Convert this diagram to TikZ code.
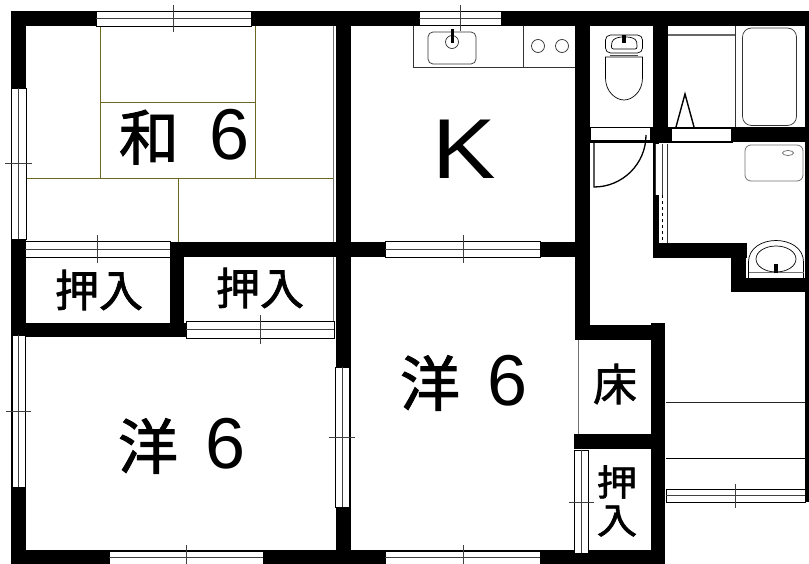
\documentclass[tikz,border=0pt]{standalone}
\usepackage{fontspec}
\newfontfamily\cjk[FakeBold=1.6]{Noto Sans CJK JP}
\newfontfamily\lat{Liberation Sans}
\newcommand{\bigroom}[3][28pt]{{\fontsize{60}{60}\selectfont\cjk #2}\hspace{#1}{\fontsize{72}{72}\selectfont\lat #3}}
\newcommand{\smallsz}{\fontsize{44}{38}\selectfont\cjk}
\newcommand{\narrowsz}{\fontsize{36}{38}\selectfont\cjk}
\tikzset{
 wall/.style={fill=black,draw=none},
 glass/.style={draw=black,fill=white,line width=.7pt},
 gline/.style={draw=black!75,line width=.7pt},
 tatami/.style={draw=olive!70!black,line width=.8pt},
 fix/.style={draw=black!80,line width=.7pt},
 thin gray/.style={draw=black!55,line width=.8pt},
 lbl/.style={inner sep=0pt,text=black}
}
\newcommand{\hwin}[5]{% x1,x2,y1,y2,crossx
 \draw[glass] (#1,#3) rectangle (#2,#4);
 \draw[gline] (#1,{(#3+#4)/2}) -- (#2,{(#3+#4)/2});
 \draw[gline] (#5,#3-6) -- (#5,#4+6);}
\newcommand{\vwin}[5]{% y1,y2,x1,x2,crossy
 \draw[glass] (#3,#1) rectangle (#4,#2);
 \draw[gline] ({(#3+#4)/2},#1) -- ({(#3+#4)/2},#2);
 \draw[gline] (#3-6,#5) -- (#4+6,#5);}
\begin{document}
\begin{tikzpicture}[x=1pt,y=-1pt]
\useasboundingbox (0,0) rectangle (809,564);
\fill[white] (0,0) rectangle (809,564);
% walls
\fill[wall] (11,11) rectangle (809,26);
\fill[wall] (11,11) rectangle (26,564);
\fill[wall] (11,550) rectangle (665,564);
\fill[wall] (336,26) rectangle (351,550);
\fill[wall] (170,242) rectangle (576,257);
\fill[wall] (170,242) rectangle (184,323);
\fill[wall] (11,323) rectangle (186,337);
\fill[wall] (575,26) rectangle (590,340);
\fill[wall] (575,325) rectangle (665,340);
\fill[wall] (651,323) rectangle (665,560);
\fill[wall] (574,434) rectangle (651,449);
\fill[wall] (653,26) rectangle (668,143);
\fill[wall] (590,127) rectangle (805,142);
\fill[wall] (653,143) rectangle (659,258);
\fill[wall] (653,243) rectangle (747,258);
\fill[wall] (731,246) rectangle (746,292);
\fill[wall] (731,278) rectangle (809,292);
\fill[wall] (805,26) rectangle (809,502);
% tatami
\draw[tatami] (100.5,26) -- (100.5,178.5);
\draw[tatami] (255.5,26) -- (255.5,178.5);
\draw[tatami] (100.5,102) -- (255.5,102);
\draw[tatami] (26,178.5) -- (333,178.5);
\draw[tatami] (178,178.5) -- (178,242);
\draw[thin gray] (333,26) -- (333,242);
\draw[thin gray] (333,257) -- (333,322);
% windows
\hwin{96}{251}{11}{26}{173}
\hwin{419}{501}{11}{25}{460}
\vwin{88}{239}{11}{26}{163}
\hwin{25}{170}{241}{257}{97}
\hwin{385}{540}{241}{257}{463}
\hwin{186}{334}{321}{338}{260}
\vwin{335}{487}{12}{25}{411}
\vwin{367}{507}{335}{349}{437}
\hwin{109}{263}{551}{564}{186}
\hwin{385}{540}{551}{564}{463}
\vwin{450}{553}{574.5}{588}{502}
\hwin{666}{805}{489.5}{502}{735}
% floor lines
\draw[thin gray] (578,340) -- (578,434);
\draw[draw=black!85,line width=.7pt] (666,402.5) -- (805,402.5);
\draw[draw=black,line width=.7pt] (666,458) -- (805,458);
% kitchen
\draw[fix] (413,26) -- (413,67.5) -- (575,67.5);
\draw[fix] (523.5,26) -- (523.5,67.5);
\draw[fix,rounded corners=5pt] (428,32) rectangle (476,64);
\draw[fix] (452,42) circle (6.5);
\fill[black] (450.5,29) rectangle (454,43);
\draw[fix] (538,46) circle (6.5);
\draw[fix] (562,46) circle (6.5);
% toilet
\draw[black,line width=.7pt,rounded corners=5pt] (605.5,35) rectangle (642.5,53);
\draw[black,line width=.7pt,rounded corners=2pt] (611.5,49) -- (611.5,44) .. controls (613,38) and (620,37) .. (624,37) .. controls (630,37) and (636,38) .. (637,44) -- (637,49) -- cycle;
\fill[black] (622,35) rectangle (626,43);
\draw[draw=black!70,line width=1.6pt] (610,55.5) -- (638,55.5);
\draw[black,line width=.7pt] (605.5,57) -- (642.5,57) -- (642.5,78) .. controls (642.5,92) and (632,100) .. (624,100) .. controls (616,100) and (605.5,92) .. (605.5,78) -- cycle;
% toilet door
\fill[white] (591,128) rectangle (650,140);
\draw[black,line width=1.3pt] (594,142) -- (594,187) arc[start angle=90,end angle=0,radius=52];
% wash door
\fill[white] (672,129) rectangle (731,141);
\draw[black,line width=.7pt] (668,142.5) -- (733,142.5);
\draw[black,line width=.7pt] (590,142.5) -- (653,142.5);
% sliding door
\fill[white] (655,144) rectangle (667,195);
\fill[white] (659,195) rectangle (667,243);
\draw[gline] (662,144) -- (662,195);
\draw[black,line width=.7pt,dashed] (662,195) -- (662,243);
\draw[black!80,line width=.7pt] (667.5,144) -- (667.5,243);
\draw[black!80,line width=.7pt] (655,144) -- (655,195);
% bath
\draw[fix] (735,26) -- (735,127);
\draw[draw=black!60,line width=1.2pt] (668,35) -- (735,35);
\draw[fix,rounded corners=9pt] (742.5,28) rectangle (796.5,125.5);
\draw[black,line width=1.4pt] (676,127) -- (685,94) -- (694,127);
% washbasin
\draw[draw=black!55,line width=.8pt,rounded corners=6pt] (745,145) rectangle (803,181);
\draw[draw=black!60,line width=.7pt] (788,153) ellipse (5.5 and 2.5);
\draw[black,line width=.7pt] (748.5,278) -- (748.5,262) .. controls (748.5,248) and (762,240.5) .. (776,240.5) .. controls (790,240.5) and (803.5,248) .. (803.5,262) -- (803.5,278);
\draw[black,line width=.7pt] (776,259) ellipse (20 and 13);
\draw[draw=black!55,line width=1pt] (748.5,273) -- (803.5,273);
\fill[black] (774,264.5) rectangle (778,273);
% labels
\node[lbl] (washitsu) at (184.5,137) {\bigroom[31pt]{和}{6}};
\node[lbl,xscale=1.12] (kitchen) at (464.5,149) {\fontsize{85}{85}\selectfont\lat K};
\node[lbl] (yoU) at (464,383) {\bigroom{洋}{6}};
\node[lbl] (yoL) at (182,446) {\bigroom{洋}{6}};
\node[lbl] (oshiA) at (99,290) {\smallsz 押入};
\node[lbl] (oshiB) at (260,288) {\smallsz 押入};
\node[lbl] (toko) at (615,384) {\smallsz 床};
\node[lbl,align=center,font=\narrowsz,xscale=1.12] (oshiC) at (617,501) {押\\入};
\end{tikzpicture}
\end{document}
